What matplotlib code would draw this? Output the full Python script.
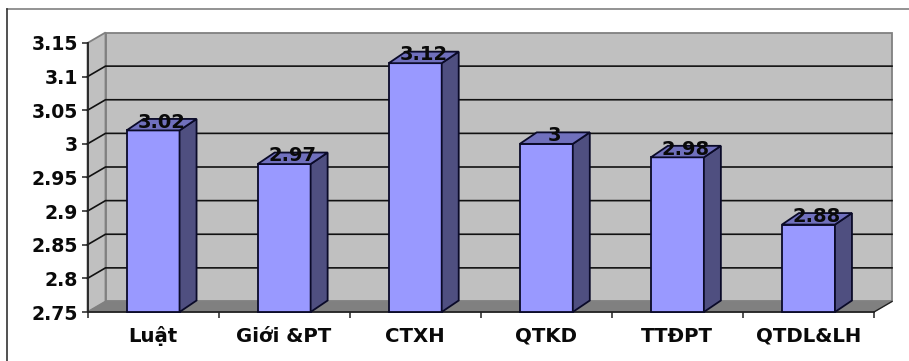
import matplotlib
matplotlib.use("Agg")
import matplotlib.pyplot as plt
from matplotlib.lines import Line2D
from matplotlib.patches import Polygon

categories = ["Luật", "Giới &PT", "CTXH", "QTKD", "TTĐPT", "QTDL&LH"]
scores = [3.02, 2.97, 3.12, 3.0, 2.98, 2.88]
score_labels = ["3.02", "2.97", "3.12", "3", "2.98", "2.88"]
y_ticks = [2.75, 2.8, 2.85, 2.9, 2.95, 3.0, 3.05, 3.1, 3.15]
y_tick_labels = ["2.75", "2.8", "2.85", "2.9", "2.95", "3", "3.05", "3.1", "3.15"]

W, H = 909, 361
LEFT, RIGHT, TOP, BOTTOM = 87.5, 874, 43, 312

fig = plt.figure(figsize=(W / 100, H / 100), dpi=100, facecolor="white")
ax = fig.add_axes([LEFT / W, 1 - BOTTOM / H, (RIGHT - LEFT) / W, (BOTTOM - TOP) / H])
ax.set_xlim(0, len(categories))
ax.set_ylim(y_ticks[0], y_ticks[-1])
ax.patch.set_visible(False)

# depth of the fake 3D box, 18 by 10.5 pixels in data units
x_per_px = len(categories) / (RIGHT - LEFT)
y_per_px = (y_ticks[-1] - y_ticks[0]) / (BOTTOM - TOP)
dx = 18 * x_per_px
dy = 10.5 * y_per_px
x0, x1 = ax.get_xlim()
y0, y1 = ax.get_ylim()


def face(pts, color, edge, z, lw=1.0):
    ax.add_patch(Polygon(pts, closed=True, facecolor=color, edgecolor=edge,
                         linewidth=lw, zorder=z, clip_on=False))


# walls and floor
face([(x0 + dx, y0 + dy), (x1 + dx, y0 + dy), (x1 + dx, y1 + dy), (x0 + dx, y1 + dy)],
     "#c0c0c0", "#808080", 1, 1.3)
face([(x0, y0), (x0 + dx, y0 + dy), (x0 + dx, y1 + dy), (x0, y1)], "#c0c0c0", "#808080", 1, 1.3)
face([(x0, y0), (x1, y0), (x1 + dx, y0 + dy), (x0 + dx, y0 + dy)], "#808080", "#808080", 1.5, 0.5)

# gridlines run along the side wall and the back wall
for t in y_ticks[1:-1]:
    ax.plot([x0, x0 + dx, x1 + dx], [t, t + dy, t + dy], color="#111111", lw=1.2,
            zorder=2, clip_on=False, solid_joinstyle="miter")
ax.plot([x1, x1 + dx], [y0, y0 + dy], color="#222222", lw=1.0, zorder=2, clip_on=False)

# bars
bar_w = 53 * x_per_px
bar_dx = 17 * x_per_px
bar_dy = 11.5 * y_per_px
for i, v in enumerate(scores):
    a = i + 0.5 - bar_w / 2
    b = i + 0.5 + bar_w / 2
    z = 3 + i * 0.1
    face([(a, y0), (b, y0), (b, v), (a, v)], "#9999ff", "#0a0a28", z, 1.3)
    face([(b, y0), (b + bar_dx, y0 + bar_dy), (b + bar_dx, v + bar_dy), (b, v)], "#4f4f80", "#0a0a28", z, 1.3)
    face([(a, v), (b, v), (b + bar_dx, v + bar_dy), (a + bar_dx, v + bar_dy)], "#7070bd", "#0a0a28", z, 1.3)
    ax.text(i + 0.5 + bar_dx / 2, v + bar_dy / 2 + 2.5 * y_per_px, score_labels[i],
            ha="center", va="center", fontsize=14, fontweight="bold",
            color="#0a0a0a", zorder=6, clip_on=False)

for side in ["top", "right"]:
    ax.spines[side].set_visible(False)
for side in ["left", "bottom"]:
    ax.spines[side].set_color("#222222")
    ax.spines[side].set_linewidth(1.3)
    ax.spines[side].set_zorder(2.5)

ax.set_yticks(y_ticks)
ax.set_yticklabels(y_tick_labels, fontsize=13.6, fontweight="bold", color="#0a0a0a")
ax.set_xticks(range(len(categories) + 1))
ax.set_xticklabels([""] * (len(categories) + 1))
ax.tick_params(axis="y", length=4, width=1.1, pad=3, color="#222222")
ax.tick_params(axis="x", length=4, width=1.1, color="#222222")

# category names sit between the tick marks
for i, name in enumerate(categories):
    ax.annotate(name, (i + 0.5, y0), xytext=(0, -24), textcoords="offset pixels",
                ha="center", va="center", fontsize=14.2, fontweight="bold", color="#0a0a0a",
                annotation_clip=False)

# outer chart frame, open on the right and the bottom
fig.add_artist(Line2D([7.5 / W, 1], [1 - 8.5 / H] * 2, color="#808080", lw=1.2))
fig.add_artist(Line2D([7.5 / W] * 2, [0, 1 - 8.5 / H], color="#333333", lw=1.2))

fig.savefig("out.png", dpi=100)
